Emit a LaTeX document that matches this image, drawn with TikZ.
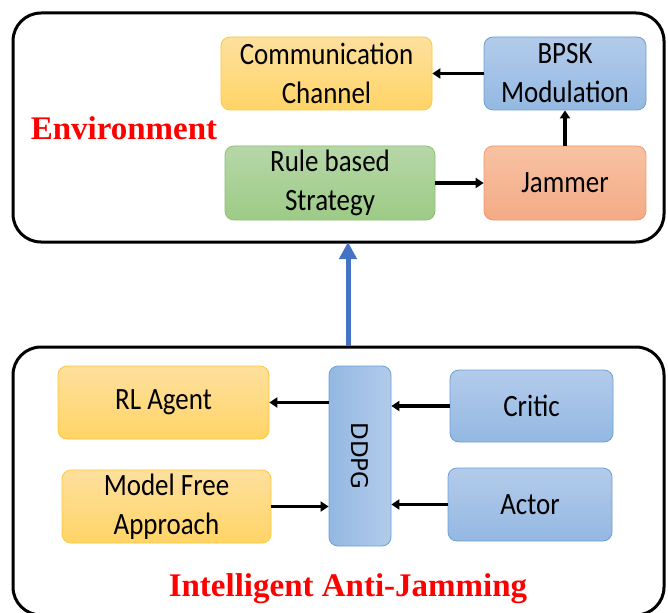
\documentclass[tikz,border=0pt]{standalone}
\usepackage{fontspec}
\setmainfont{Carlito}[FakeStretch=0.87]
\newfontfamily\labelfont{Liberation Serif}
\newfontfamily\ddpgfont{DejaVu Sans}
\usetikzlibrary{arrows.meta,calc}

\definecolor{frame}{HTML}{000000}
\definecolor{goldtop}{HTML}{FEE09E}
\definecolor{goldbot}{HTML}{FFD466}
\definecolor{goldline}{HTML}{FFC73A}
\definecolor{bluetop}{HTML}{B3CBEA}
\definecolor{bluebot}{HTML}{94B8E2}
\definecolor{blueline}{HTML}{6A9FD8}
\definecolor{greentop}{HTML}{B6D7A8}
\definecolor{greenbot}{HTML}{9DCB86}
\definecolor{greenline}{HTML}{8CC071}
\definecolor{salmontop}{HTML}{F7C2A3}
\definecolor{salmonbot}{HTML}{F4AA85}
\definecolor{salmonline}{HTML}{F19A6C}
\definecolor{bigarrow}{HTML}{4472C4}
\definecolor{labelred}{HTML}{FF0000}

\tikzset{
  panel/.style={draw=frame, line width=3pt, rounded corners=28pt, fill=white},
  block/.style={rounded corners=9pt, line width=0.8pt, align=center,
    font=\fontsize{31}{39}\selectfont, inner sep=2pt},
  goldbox/.style={block, draw=goldline, top color=goldtop, bottom color=goldbot},
  bluebox/.style={block, draw=blueline, top color=bluetop, bottom color=bluebot},
  greenbox/.style={block, draw=greenline, top color=greentop, bottom color=greenbot},
  salmonbox/.style={block, draw=salmonline, top color=salmontop, bottom color=salmonbot},
  flow/.style={line width=3.2pt, -{Triangle[length=8pt,width=10pt]}},
  redlabel/.style={text=labelred, font=\labelfont\bfseries\fontsize{33}{36}\selectfont}
}

\begin{document}
\begin{tikzpicture}[x=1pt,y=-1pt]
\useasboundingbox (0,0) rectangle (668,612);
\clip (0,0) rectangle (668,612);

% outer panels
\node[panel, minimum width=651pt, minimum height=229pt] (env) at (338.5,127.5) {};
\node[panel, minimum width=651pt, minimum height=268pt] (agentpanel) at (338.5,481) {};

% environment blocks
\node[goldbox, minimum width=211pt, minimum height=73pt] (comm) at (326.5,73.5)
  {Communication\\Channel};
\node[bluebox, minimum width=162pt, minimum height=73pt] (bpsk) at (565,73.5)
  {BPSK\\Modulation};
\node[greenbox, minimum width=210pt, minimum height=74pt] (rule) at (330,183)
  {Rule based\\Strategy};
\node[salmonbox, minimum width=162pt, minimum height=74pt] (jam) at (565,183)
  {Jammer};
\node[redlabel] (envlabel) at (124,128) {Environment};

% anti-jamming blocks
\node[goldbox, minimum width=211pt, minimum height=73pt] (rl) at (163.5,402.5)
  {RL Agent};
\node[goldbox, minimum width=209pt, minimum height=73pt] (mf) at (166.5,506.5)
  {Model Free\\Approach};
\node[block, draw=blueline, left color=bluebot, right color=bluetop,
  minimum width=62pt, minimum height=180pt] (ddpg) at (360,456) {};
\node[rotate=-90, font=\ddpgfont\fontsize{23}{26}\selectfont] (ddpgtext) at (ddpg.center) {DDPG};
\node[bluebox, minimum width=163pt, minimum height=72pt] (critic) at (531.5,406)
  {Critic};
\node[bluebox, minimum width=164pt, minimum height=73pt] (actor) at (530,504.5)
  {Actor};
\node[redlabel] (ajlabel) at (348,589) {Intelligent Anti-Jamming};

% connectors inside the environment
\draw[flow] (bpsk.west) -- (comm.east |- bpsk.west);
\draw[flow] (jam.north) -- (bpsk.south);
\draw[flow] (rule.east) -- (jam.west |- rule.east);

% connectors inside the anti-jamming panel
\draw[flow] (ddpg.west |- rl.east) -- (rl.east);
\draw[flow] (mf.east) -- (ddpg.west |- mf.east);
\draw[flow] (critic.west) -- (ddpg.east |- critic.west);
\draw[flow] (actor.west) -- (ddpg.east |- actor.west);

% link from the agent up to the environment
\draw[bigarrow, line width=5pt, -{Triangle[length=17pt,width=17pt]}]
  ($(agentpanel.north)+(9.5,0)$) -- ($(env.south)+(9.5,-1.5)$);
\end{tikzpicture}
\end{document}
